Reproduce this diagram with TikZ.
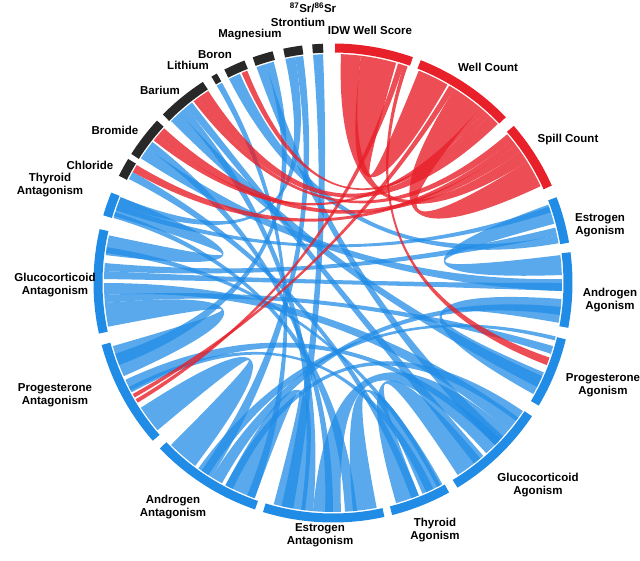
\documentclass[tikz,border=0pt]{standalone}
\usepackage{fontspec}
\setmainfont{Liberation Sans}
\usepackage{tikz}

\definecolor{chordred}{RGB}{232,32,42}
\definecolor{chordblue}{RGB}{33,140,230}
\definecolor{bandgray}{RGB}{40,40,40}

\newcommand{\rr}{229pt}
\newcommand{\rc}{76pt}
% ribbon between two arcs of the circle
\newcommand{\chord}[5]{\fill[#5] (#1:\rr) arc[start angle=#1,end angle=#2,radius=\rr]
  .. controls (#2:\rc) and (#3:\rc) .. (#3:\rr) arc[start angle=#3,end angle=#4,radius=\rr]
  .. controls (#4:\rc) and (#1:\rc) .. (#1:\rr) -- cycle;}

\tikzset{
  band/.style={line width=9pt},
  lbl/.style={font=\bfseries\fontsize{11.5}{13}\selectfont, align=center, inner sep=0pt},
  redchord/.style={chordred, opacity=0.8},
  bluechord/.style={chordblue, opacity=0.75}
}

\begin{document}
\begin{tikzpicture}[x=1pt,y=1pt]
  \useasboundingbox (-333,-277) rectangle (307,283);

  % outer bands
  \foreach \a/\b in {70.5/89.5, 43.8/68.5, 24/41}
    \draw[band,chordred] (\a:235pt) arc[start angle=\a,end angle=\b,radius=235pt];
  \foreach \a/\b in {9.7/21, -10.8/7.4, -30.8/-13.6, -58.7/-33.8, -75.7/-61, -107/-77.6,
                     -136.3/-109, -165/-138.8, 167/192.2, 157.8/163.6}
    \draw[band,chordblue] (\a:235pt) arc[start angle=\a,end angle=\b,radius=235pt];
  \foreach \a/\b in {148.8/153.4, 137.3/147.4, 122.9/135.3, 119/120.5, 111.7/117,
                     104.6/109.6, 97.4/102, 92.4/95}
    \draw[band,bandgray] (\a:235pt) arc[start angle=\a,end angle=\b,radius=235pt];

  % blue ribbons
  \foreach \a/\b/\c/\d in {2/7/15/20, -10/-4/-29/-23, -57/-50/-74/-68, -67/-62/-85/-79,
      -105/-97/-118/-110, -135/-127/-147/-140, -164/-156/185/191, 168/173/158/163,
      -95/-88/-48/-40, 160/161.5/18/19.5, 175/177/12/14, 177/179/-2/0,
      180/183/-40/-36, 183/185/-18/-16, -155/-152/-45/-43, -153/-151.5/-66/-64,
      -126/-123/-14.5/-13.5, -122/-119/-8/-6, -87/-84/162/163.5, -63/-61.5/171/172.5,
      -37/-34/-118/-116, 128/130/-52/-49, 130/132/-98/-95, 132/135/-27/-24,
      142/144/-92/-90, 144/147/-2/1, 151/153/-70/-68, 119/120.5/-112/-110,
      114/117/10/12, 105/107/-162/-159, 107/109.5/-45/-42, 97.5/99.5/-125/-122,
      99.5/102/158/160, 92.5/95/-103/-100}
    \chord{\a}{\b}{\c}{\d}{bluechord};

  % red ribbons
  \foreach \a/\b/\c/\d in {74/83/60/68, 83/88/32/35, 50/58/25/32, 72/73.5/-149.5/-148.5,
      58/59.5/-151/-150, 71/72/-21/-19, 123/126/44/47, 126/127.5/38.5/40.5,
      137.5/140/35/37, 149/151/37/38.5, 112/113.5/47/48.5, 140/141.5/48.5/50}
    \chord{\a}{\b}{\c}{\d}{redchord};

  % labels
  \node[lbl] (idw) at (37,253) {IDW Well Score};
  \node[lbl] (wellcount) at (155,216) {Well Count};
  \node[lbl] (spill) at (235,143) {Spill Count};
  \node[lbl] (estag) at (267,58) {Estrogen\\Agonism};
  \node[lbl] (andag) at (277,-17) {Androgen\\Agonism};
  \node[lbl] (progag) at (270,-102) {Progesterone\\Agonism};
  \node[lbl] (glucag) at (205,-202) {Glucocorticoid\\Agonism};
  \node[lbl] (thyag) at (102,-247) {Thyroid\\Agonism};
  \node[lbl] (estant) at (-13,-252) {Estrogen\\Antagonism};
  \node[lbl] (andant) at (-160,-224) {Androgen\\Antagonism};
  \node[lbl] (progant) at (-278,-112) {Progesterone\\Antagonism};
  \node[lbl] (glucant) at (-278,-2) {Glucocorticoid\\Antagonism};
  \node[lbl] (thyant) at (-283,98) {Thyroid\\Antagonism};
  \node[lbl] (chloride) at (-243,118) {Chloride};
  \node[lbl] (bromide) at (-218,153) {Bromide};
  \node[lbl] (barium) at (-173,193) {Barium};
  \node[lbl] (lithium) at (-145,218) {Lithium};
  \node[lbl] (boron) at (-118,228) {Boron};
  \node[lbl] (magnesium) at (-83,248) {Magnesium};
  \node[lbl] (strontium) at (-35,261) {Strontium};
  \node[lbl] (srratio) at (-20,275) {\textsuperscript{87}Sr/\textsuperscript{86}Sr};
\end{tikzpicture}
\end{document}
